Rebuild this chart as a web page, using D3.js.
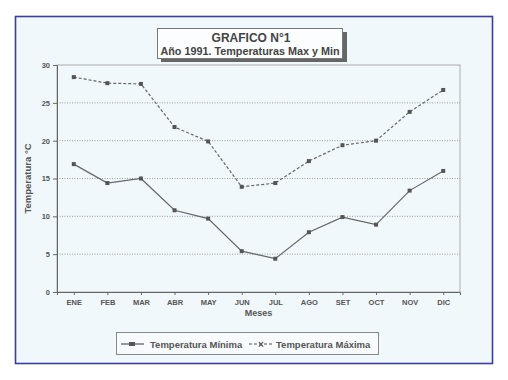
<!DOCTYPE html>
<html><head><meta charset="utf-8">
<script src="https://cdn.jsdelivr.net/npm/d3@7"></script>
<style>body{margin:0;background:#fff}svg{display:block}text{font-family:"Liberation Sans",Arial,sans-serif}</style>
</head><body>
<svg id="c" width="508" height="380"></svg>
<script>
const months = ["ENE","FEB","MAR","ABR","MAY","JUN","JUL","AGO","SET","OCT","NOV","DIC"];
const tMin = [16.9,14.4,15.0,10.8,9.7,5.4,4.4,7.9,9.9,8.9,13.4,16.0];
const tMax = [28.4,27.6,27.5,21.8,19.9,13.9,14.4,17.3,19.4,20.0,23.8,26.7];
const yTicks = [0,5,10,15,20,25,30];
const title1 = "GRAFICO N°1";
const title2 = "Año 1991. Temperaturas Max y Min";
const yLabel = "Temperatura °C";
const xLabel = "Meses";
const legendLabels = ["Temperatura Mínima","Temperatura Máxima"];

const svg = d3.select("#c");
svg.append("rect").attr("x",15.5).attr("y",16.5).attr("width",477).attr("height",347)
  .attr("fill","#f1f8fc").attr("stroke","#3a3ca6").attr("stroke-width",1.6);

const L=57,R=460,T=65,B=292;
const x = d3.scalePoint().domain(months).range([L,R]).padding(0.5);
const y = d3.scaleLinear().domain([0,30]).range([B,T]);

// grid
svg.append("g").selectAll("line").data(yTicks.filter(d=>d>0&&d<30)).join("line")
  .attr("x1",L).attr("x2",R).attr("y1",d=>y(d)).attr("y2",d=>y(d))
  .attr("stroke","#888").attr("stroke-width",0.8).attr("stroke-dasharray","1,1.5");
// frame
svg.append("rect").attr("x",L).attr("y",T).attr("width",R-L).attr("height",B-T)
  .attr("fill","none").attr("stroke","#999").attr("stroke-width",0.8);

const yAxis = svg.append("g").attr("transform",`translate(${L},0)`)
  .call(d3.axisLeft(y).tickValues(yTicks).tickSize(4).tickPadding(3));
const xAxis = svg.append("g").attr("transform",`translate(0,${B})`)
  .call(d3.axisBottom(x).tickSize(3).tickPadding(5));
[yAxis,xAxis].forEach(a=>{
  a.select(".domain").attr("stroke","#666");
  a.selectAll(".tick line").attr("stroke","#666");
  a.selectAll("text").attr("fill","#555").attr("font-size",7.5).attr("font-weight","bold");
});

const line = d3.line().x((d,i)=>x(months[i])).y(d=>y(d));
svg.append("path").datum(tMin).attr("d",line).attr("fill","none").attr("stroke","#666").attr("stroke-width",1.2);
svg.append("path").datum(tMax).attr("d",line).attr("fill","none").attr("stroke","#666").attr("stroke-width",1.2).attr("stroke-dasharray","3,2");
[tMin,tMax].forEach(s=>{
  svg.append("g").selectAll("rect").data(s).join("rect")
    .attr("x",(d,i)=>x(months[i])-2).attr("y",d=>y(d)-2).attr("width",4).attr("height",4)
    .attr("fill","#555");
});

// axis titles
svg.append("text").attr("transform",`translate(31,${(T+B)/2}) rotate(-90)`).attr("text-anchor","middle")
  .attr("font-size",9.5).attr("font-weight","bold").attr("fill","#555").text(yLabel);
svg.append("text").attr("x",(L+R)/2).attr("y",316).attr("text-anchor","middle")
  .attr("font-size",9).attr("font-weight","bold").attr("fill","#555").text(xLabel);

// title box
svg.append("rect").attr("x",161).attr("y",32).attr("width",186).attr("height",30).attr("fill","#666");
svg.append("rect").attr("x",157.5).attr("y",28.5).attr("width",185).attr("height",30).attr("fill","#fbfdfe").attr("stroke","#777");
svg.append("text").attr("x",251).attr("y",42).attr("text-anchor","middle").attr("font-size",12).attr("font-weight","bold").attr("fill","#444").text(title1);
svg.append("text").attr("x",250).attr("y",55).attr("text-anchor","middle").attr("font-size",10.8).attr("font-weight","bold").attr("fill","#444").text(title2);

// legend
svg.append("rect").attr("x",116.5).attr("y",332.5).attr("width",262).attr("height",22).attr("fill","#f7fbfd").attr("stroke","#888");
const lg = svg.append("g");
lg.append("line").attr("x1",121).attr("x2",144).attr("y1",344).attr("y2",344).attr("stroke","#555").attr("stroke-width",1.2);
lg.append("rect").attr("x",129).attr("y",342).attr("width",6).attr("height",4).attr("fill","#555");
lg.append("text").attr("x",150).attr("y",347.5).attr("font-size",9.5).attr("font-weight","bold").attr("fill","#555").text(legendLabels[0]);
lg.append("line").attr("x1",249).attr("x2",273).attr("y1",344).attr("y2",344).attr("stroke","#555").attr("stroke-width",1.2).attr("stroke-dasharray","3,2");
lg.append("text").attr("x",261).attr("y",347.5).attr("text-anchor","middle").attr("font-size",10).attr("font-weight","bold").attr("fill","#555").text("×");
lg.append("text").attr("x",276).attr("y",347.5).attr("font-size",9.5).attr("font-weight","bold").attr("fill","#555").text(legendLabels[1]);
</script>
</body></html>
